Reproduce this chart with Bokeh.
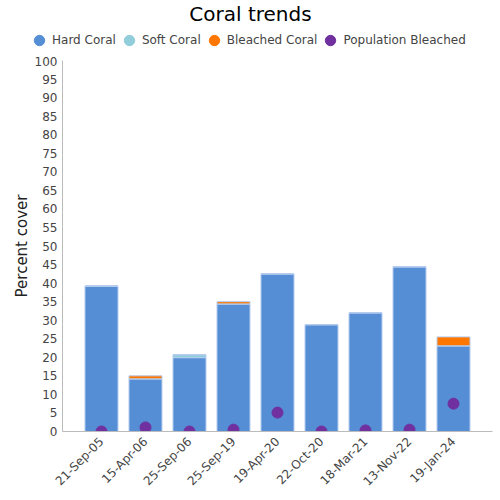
from bokeh.plotting import figure
from bokeh.layouts import column
from bokeh.models import (ColumnDataSource, FactorRange, Range1d, FixedTicker, Legend,
                          LegendItem, Label)
from bokeh.embed import file_html
from bokeh.resources import INLINE
import math

dates = ["21-Sep-05", "15-Apr-06", "25-Sep-06", "25-Sep-19", "19-Apr-20",
         "22-Oct-20", "18-Mar-21", "13-Nov-22", "19-Jan-24"]
hard_coral = [39.2, 14.2, 19.9, 34.4, 42.5, 28.8, 32.0, 44.4, 23.1]
soft_coral = [0, 0, 0.8, 0, 0, 0, 0, 0, 0]
bleached_coral = [0, 0.8, 0, 0.6, 0, 0, 0, 0, 2.4]
population_bleached = [0, 1.1, 0, 0.5, 5.1, 0, 0.3, 0.5, 7.5]
y_ticks = list(range(0, 101, 5))
series_names = ["Hard Coral", "Soft Coral", "Bleached Coral", "Population Bleached"]

FONT = "DejaVu Sans"
C_HARD = "#558ED5"
C_SOFT = "#92CDDC"
C_BLEACH = "#FF7700"
C_POP = "#7030A0"
colors = [C_HARD, C_SOFT, C_BLEACH, C_POP]

W = 496
TOP_H = 56

# ---------- header: title + legend ----------
head = figure(width=W, height=TOP_H, output_backend="svg", toolbar_location=None,
              title=None, x_axis_location=None, y_axis_location=None,
              x_range=Range1d(0, W), y_range=Range1d(0, TOP_H),
              min_border=0, min_border_left=0, min_border_right=0,
              min_border_top=0, min_border_bottom=0)
head.frame_align = False
head.outline_line_color = None
head.xgrid.grid_line_color = None
head.ygrid.grid_line_color = None
head.add_layout(Label(x=250, y=TOP_H - 13, x_units="screen", y_units="screen",
                      text="Coral trends", text_font=FONT, text_font_size="20px",
                      text_color="#000000", text_align="center", text_baseline="middle"))
items = []
for name, col in zip(series_names, colors):
    r = head.scatter(x=[0], y=[float("nan")], size=11, color=col)
    items.append(LegendItem(label=name, renderers=[r]))
legend = Legend(items=items, orientation="horizontal", location=(26, TOP_H - 40 - 13),
                label_text_font=FONT, label_text_font_size="12px", label_text_color="#444444",
                glyph_width=26, glyph_height=26, label_standoff=0, spacing=0,
                padding=0, margin=0, border_line_color=None, background_fill_alpha=0)
head.add_layout(legend, "center")

# ---------- main chart ----------
src = ColumnDataSource(dict(date=dates, hard=hard_coral, soft=soft_coral,
                            bleached=bleached_coral, pop=population_bleached))

p = figure(width=W, height=440, output_backend="svg", toolbar_location=None, title=None,
           x_range=FactorRange(factors=dates, range_padding=0.0858, range_padding_units="percent"),
           y_range=Range1d(0, 100),
           min_border_left=62, min_border_right=4, min_border_bottom=64, min_border_top=4)
p.frame_align = False

p.vbar_stack(["hard", "soft", "bleached"], x="date", width=0.75, source=src,
             color=[C_HARD, C_SOFT, C_BLEACH], line_color="#B5CCEE", line_width=1)
p.scatter(x="date", y="pop", source=src, size=11, color=C_POP)

p.xgrid.grid_line_color = None
p.ygrid.grid_line_color = None
p.outline_line_color = None

p.yaxis.ticker = FixedTicker(ticks=y_ticks)
p.yaxis.axis_label = "Percent cover"
p.yaxis.axis_label_text_font = FONT
p.yaxis.axis_label_text_font_size = "15px"
p.yaxis.axis_label_text_font_style = "normal"
p.yaxis.axis_label_text_color = "#222222"
p.yaxis.axis_label_standoff = 1

for ax in (p.xaxis, p.yaxis):
    ax.axis_line_color = "#BBBBBB"
    ax.major_tick_line_color = None
    ax.minor_tick_line_color = None
    ax.major_tick_out = 0
    ax.major_tick_in = 0
    ax.major_label_standoff = 5
    ax.major_label_text_font = FONT
    ax.major_label_text_font_size = "12px"
    ax.major_label_text_color = "#444444"
p.xaxis.major_label_orientation = math.pi / 4
p.xaxis.major_label_standoff = 8

layout = column(head, p, spacing=0)
open("out.html", "w").write(file_html(layout, INLINE))
